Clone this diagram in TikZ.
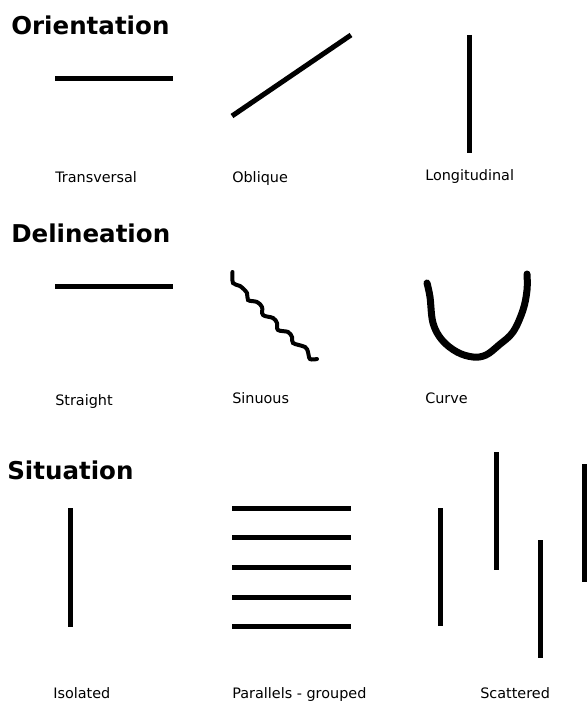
\documentclass[tikz,border=0pt]{standalone}
\usepackage{fontspec}
\setmainfont{DejaVu Sans}
\begin{document}
\begin{tikzpicture}[x=0.75pt,y=-0.75pt,
    heading/.style={anchor=base west,inner sep=0pt,font=\fontsize{18.4}{20}\selectfont\bfseries},
    caption/.style={anchor=base west,inner sep=0pt,font=\fontsize{10.8}{12}\selectfont},
    bar/.style={line width=3.75pt}]
    \useasboundingbox (0,0) rectangle (586,702);
    % Orientation
    \node[heading] (orient) at (11,35) {Orientation};
    \draw[bar] (55,79)--(173,79);
    \draw[bar] (232,116)--(351,35);
    \draw[bar] (469,35)--(469,153);
    \node[caption] (transv) at (55,183) {Transversal};
    \node[caption] (obliq) at (232,183) {Oblique};
    \node[caption] (longi) at (425,181) {Longitudinal};
    % Delineation
    \node[heading] (delin) at (11,242) {Delineation};
    \draw[bar] (55,286)--(173,286);
    \draw[line width=3pt,line cap=round] plot[smooth,tension=0.6] coordinates {(232.5,272) (233,283) (240,286) (247,293) (248,300) (257,302) (262,307) (263,315) (273,318) (277,323) (278,330) (288,332) (292,337) (293,343) (305,347) (308,352) (310,359) (317,359)};
    \draw[line width=5.25pt,line cap=round] plot[smooth,tension=0.6] coordinates {(427,283) (430,297) (433,323) (442,340) (457,352) (473,357) (486,355) (499,345) (513,332) (523,310) (527,290) (527,274)};
    \node[caption] (straight) at (55,405) {Straight};
    \node[caption] (sinuous) at (232,403) {Sinuous};
    \node[caption] (curve) at (425,403) {Curve};
    % Situation
    \node[heading] (situ) at (7,479) {Situation};
    \draw[bar] (70,508)--(70,627);
    \foreach \y in {508,537,567,597,626}
      \draw[bar] (232,\y)--(351,\y);
    \draw[bar] (440,508)--(440,626);
    \draw[bar] (496,452)--(496,570);
    \draw[bar] (540,540)--(540,658);
    \draw[bar] (584,464)--(584,582);
    \node[caption] (isol) at (53,698) {Isolated};
    \node[caption] (paral) at (232,698) {Parallels - grouped};
    \node[caption] (scatt) at (480,698) {Scattered};
\end{tikzpicture}
\end{document}
